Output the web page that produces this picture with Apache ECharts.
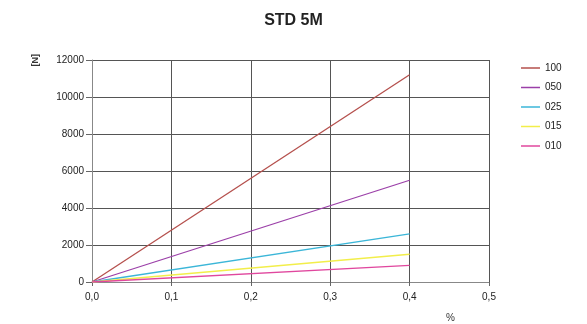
<!DOCTYPE html>
<html>
<head>
<meta charset="utf-8">
<script src="https://cdn.jsdelivr.net/npm/echarts@6/dist/echarts.min.js"></script>
<style>html,body{margin:0;padding:0;background:#fff}#c{width:587px;height:324px}</style>
</head>
<body>
<div id="c"></div>
<script>
var titleText = 'STD 5M';
var seriesNames = ['100', '050', '025', '015', '010'];
var seriesColors = ['#b5504d', '#9b3fa8', '#3bb6d8', '#f2ee4a', '#e0479e'];
var xPoints = [0, 0.4];
var s100 = [0, 11200];
var s050 = [0, 5500];
var s025 = [0, 2600];
var s015 = [0, 1500];
var s010 = [0, 900];
var allValues = [s100, s050, s025, s015, s010];
var yName = '[N]';
var xName = '%';

var chart = echarts.init(document.getElementById('c'), null, {renderer: 'canvas'});
var font = 'Liberation Sans, Arial, sans-serif';
var series = seriesNames.map(function (n, i) {
  return {
    name: n, type: 'line', symbol: 'none', silent: true,
    data: xPoints.map(function (x, j) { return [x, allValues[i][j]]; }),
    lineStyle: {color: seriesColors[i], width: 1.3},
    itemStyle: {color: seriesColors[i]}
  };
});
chart.setOption({
  animation: false,
  backgroundColor: '#fff',
  title: {text: titleText, left: 'center', top: 8,
    textStyle: {fontFamily: font, fontSize: 16, fontWeight: 'bold', color: '#222'}},
  legend: {
    orient: 'vertical', left: 516, top: 57, itemGap: 7.5,
    itemWidth: 19, itemHeight: 12, icon: 'path://M0,5L19,5L19,6.5L0,6.5Z',
    textStyle: {fontFamily: font, fontSize: 10, color: '#222', letterSpacing: -0.5, lineHeight: 12, height: 12},
    data: seriesNames
  },
  grid: {left: 92, right: 98, top: 60, bottom: 42},
  xAxis: {
    type: 'value', min: 0, max: 0.5, interval: 0.1,
    axisLine: {lineStyle: {color: '#888', width: 1}},
    axisTick: {show: true, length: 4, lineStyle: {color: '#666'}},
    splitLine: {show: true, lineStyle: {color: '#555', width: 1}},
    axisLabel: {fontFamily: font, fontSize: 10, color: '#222', margin: 10,
      formatter: function (v) { return v.toFixed(1).replace('.', ','); }}
  },
  yAxis: {
    type: 'value', min: 0, max: 12000, interval: 2000,
    axisLine: {show: true, lineStyle: {color: '#888', width: 1}},
    axisTick: {show: true, length: 6, lineStyle: {color: '#666'}},
    splitLine: {show: true, lineStyle: {color: '#555', width: 1}},
    axisLabel: {fontFamily: font, fontSize: 10, color: '#222', margin: 8,
      formatter: function (v) { return String(v); }}
  },
  graphic: [
    {type: 'text', left: 31, top: 54, rotation: Math.PI / 2,
      style: {text: yName, font: 'bold 9px ' + font, fill: '#333'}},
    {type: 'text', left: 446, top: 313,
      style: {text: xName, font: '10px ' + font, fill: '#333'}}
  ],
  series: series
});
</script>
</body>
</html>
